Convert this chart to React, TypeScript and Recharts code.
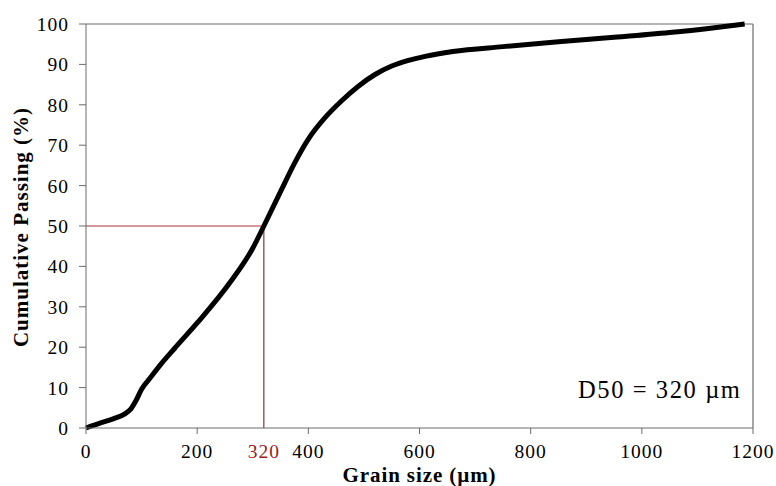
import React from 'react';
import { LineChart, Line, XAxis, YAxis, ReferenceLine } from 'recharts';

// grain size (µm) vs cumulative passing (%)
const grainSize = [0, 25, 50, 70, 80, 90, 100, 115, 133, 160, 200, 259, 300, 320, 350, 375, 400, 430, 460, 490, 520, 550, 580, 610, 660, 750, 850, 950, 1050, 1120, 1185];
const passing = [0, 1.2, 2.3, 3.5, 4.6, 6.8, 9.6, 12.3, 15.5, 19.8, 26, 36, 44.5, 50, 58.5, 65.5, 71.5, 76.8, 81, 84.6, 87.5, 89.6, 91, 92, 93.2, 94.4, 95.6, 96.7, 97.9, 98.9, 100];

const xTicks = [0, 200, 400, 600, 800, 1000, 1200];
const yTicks = [0, 10, 20, 30, 40, 50, 60, 70, 80, 90, 100];
const d50 = 320;

const data = grainSize.map((g, i) => ({ g, p: passing[i] }));

const FONT = '"Liberation Serif", "Times New Roman", serif';
const AXIS = '#6b6b6b';
const tickStyle = { fontSize: 19.5, fill: '#000', fontFamily: FONT, letterSpacing: 1 };

export default function App() {
  return (
    <div style={{ position: 'absolute', left: 0, top: 0, width: 776, height: 486, background: '#fff' }}>
      <LineChart width={776} height={486} data={data} margin={{ top: 24, right: 23, left: 0, bottom: 0 }}>
        <XAxis
          dataKey="g"
          type="number"
          domain={[0, 1200]}
          ticks={xTicks}
          height={58}
          tickSize={6}
          tickMargin={10}
          stroke={AXIS}
          tick={tickStyle}
          label={{
            value: 'Grain size (µm)',
            position: 'insideBottom',
            offset: 4,
            style: { fontSize: 21, fontWeight: 'bold', fill: '#000', fontFamily: FONT, letterSpacing: 0.9 },
          }}
        />
        <YAxis
          type="number"
          domain={[0, 100]}
          ticks={yTicks}
          width={86}
          tickSize={7}
          tickMargin={10}
          stroke={AXIS}
          tick={tickStyle}
          label={{
            content: () => (
              <text
                transform="translate(21,227) rotate(-90)"
                textAnchor="middle"
                dominantBaseline="central"
                style={{ fontSize: 21, fontWeight: 'bold', fill: '#000', fontFamily: FONT, letterSpacing: 1 }}
              >
                Cumulative Passing (%)
              </text>
            ),
          }}
        />
        <ReferenceLine y={100} stroke={AXIS} strokeWidth={1.2} />
        <ReferenceLine x={1200} stroke={AXIS} strokeWidth={1.2} />
        <ReferenceLine
          segment={[{ x: 0, y: 50 }, { x: d50, y: 50 }]}
          stroke="#a8303a"
          strokeWidth={1}
        />
        <ReferenceLine
          segment={[{ x: d50, y: 0 }, { x: d50, y: 50 }]}
          stroke="#6a1010"
          strokeWidth={1}
          label={{
            value: String(d50),
            position: 'bottom',
            offset: 16,
            style: { fontSize: 19.5, fill: '#9b1b1b', fontFamily: FONT, letterSpacing: 1 },
          }}
        />
        <Line
          type="monotone"
          dataKey="p"
          stroke="#000"
          strokeWidth={5}
          dot={false}
          isAnimationActive={false}
        />
      </LineChart>
      <svg width={776} height={486} style={{ position: 'absolute', left: 0, top: 0, pointerEvents: 'none' }}>
        <text x={578} y={398} style={{ fontSize: 24.5, fill: '#000', fontFamily: FONT, letterSpacing: 1.6 }}>
          D50 = 320 µm
        </text>
      </svg>
    </div>
  );
}
